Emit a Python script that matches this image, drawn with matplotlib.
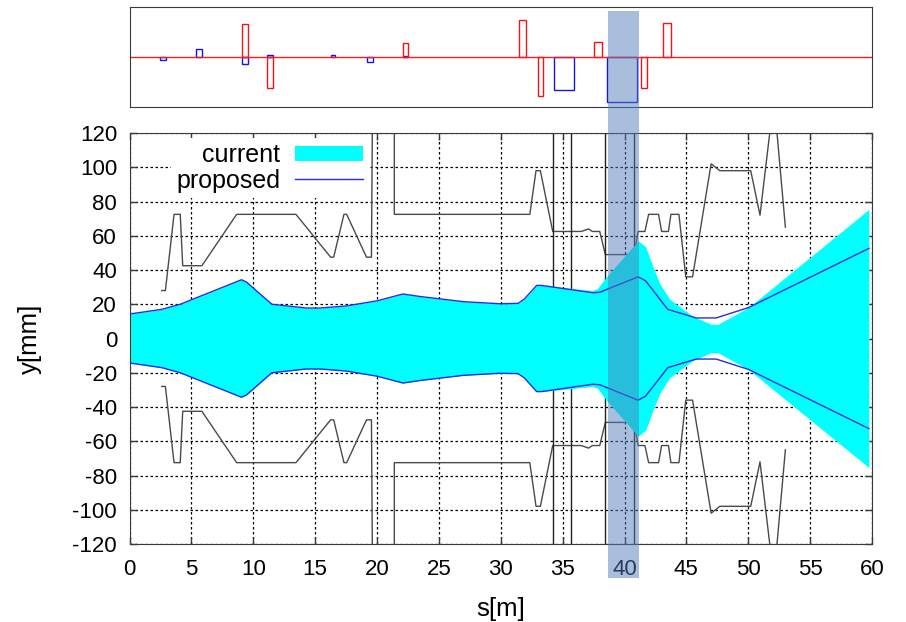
import matplotlib
matplotlib.use('Agg')
import matplotlib.pyplot as plt
from matplotlib.patches import Rectangle
from matplotlib.transforms import blended_transform_factory
import numpy as np

plt.rcParams['font.family'] = ['Liberation Sans', 'DejaVu Sans']
plt.rcParams['axes.unicode_minus'] = False

# top panel: magnets (start, end, strength)
red_start = [9.06, 11.08, 22.07, 31.5, 33.0, 37.55, 41.3, 43.12]
red_end = [9.6, 11.6, 22.5, 32.03, 33.4, 38.17, 41.83, 43.76]
red_val = [32.7, -31.3, 14.3, 37, -39, 15.3, -31.3, 33.7]
blue_start = [2.49, 5.4, 9.06, 11.08, 16.25, 19.18, 22.1, 34.3, 38.6]
blue_end = [2.97, 5.88, 9.6, 11.6, 16.63, 19.67, 22.45, 35.88, 40.97]
blue_val = [-3.3, 7.7, -6.7, 2.3, 2.3, -4.7, 1.3, -32.7, -45.3]

# beam envelope, proposed
prop_s = [0, 2.6, 4.1, 9.05, 9.45, 11.5, 14.3, 15.4, 17.5, 20, 22.1, 23.5, 27, 29.9, 31.4,
          31.9, 32.9, 33.3, 37.45, 38, 41.1, 41.7, 43.5, 45.8, 47.4, 50, 59.75]
prop_y = [14.3, 17, 20, 34.3, 33, 20, 17.8, 17.8, 19, 22, 26, 24.5, 21.5, 20.3, 20.5,
          23, 31, 31, 26.7, 27, 36, 33.7, 17, 12, 12, 18, 52.6]

# beam envelope, current
curr_s = [0, 2.6, 4.1, 9.05, 9.45, 11.5, 14.3, 15.4, 17.5, 20, 22.1, 23.5, 27, 29.9, 31.4,
          31.9, 32.9, 33.3, 37.4, 37.8, 38.65, 41.1, 41.7, 42.3, 42.85, 43.65, 45.5, 47, 47.55, 50, 59.75]
curr_y = [14.3, 17, 20, 34.3, 33, 20, 17.8, 17.8, 19, 22, 26, 24.5, 21.5, 20.3, 20.5,
          23, 31, 31, 28, 29, 37, 57, 53.7, 42, 32, 23, 13, 8.3, 8.3, 18, 75.4]

# aperture outline
ap_s = [2.6, 2.9, 3.6, 4.1, 4.3, 5.85, 8.66, 13.45, 16.25, 16.5, 17.33, 17.55, 19.15, 19.55,
        19.7, 21.4, 21.4, 32.35, 32.85, 33.2, 34.2, 36.5, 37.1, 37.4, 38, 38.45, 40.8, 41.1,
        41.65, 41.95, 42.75, 43, 43.55, 43.75, 44.4, 44.95, 45.5, 47, 47.7, 50.2, 50.95,
        51.9, 52.2, 53]
ap_y = [28, 28, 72.5, 72.5, 42.5, 42.5, 72.5, 72.5, 47.5, 47.5, 72.5, 72.5, 47.5, 47.5,
        200, 200, 72.5, 72.5, 98, 98, 62.5, 62.5, 64, 62.5, 62.5, 49, 49, 62.5,
        62.5, 72.5, 72.5, 62.5, 62.5, 72.5, 72.5, 36, 36, 102, 98, 98, 72,
        130, 130, 65]
spike_s = [34.2, 35.7, 38.45, 40.8]

band_s = [38.65, 41.2]

W, H = 906, 622
fig = plt.figure(figsize=(W / 100, H / 100), dpi=100)
dark = '#3a3a3a'

# top panel
ax0 = fig.add_axes([129.5 / W, 1 - 107 / H, 742.5 / W, 100 / H])
ax0.bar(blue_start, blue_val, width=np.array(blue_end) - np.array(blue_start), align='edge',
        fill=False, edgecolor='#1414f0', linewidth=1)
ax0.bar(red_start, red_val, width=np.array(red_end) - np.array(red_start), align='edge',
        fill=False, edgecolor='#f01414', linewidth=1)
ax0.axhline(0, color='#f02020', lw=1)
ax0.set_xlim(0, 60)
ax0.set_ylim(-50, 50)
ax0.set_xticks([])
ax0.set_yticks([])
for sp in ax0.spines.values():
    sp.set_color(dark)

# main panel
ax = fig.add_axes([129.5 / W, 1 - 544 / H, 742.5 / W, 411 / H])
ax.set_axisbelow(True)
ax.grid(True, color='black', linestyle=(0, (2, 2)), linewidth=0.9)
ap_s = np.array(ap_s)
ap_y = np.array(ap_y)
ax.plot(ap_s, ap_y, color='#4a4a4a', lw=1, zorder=1.5)
ax.plot(ap_s, -ap_y, color='#4a4a4a', lw=1, zorder=1.5)
for s in spike_s:
    ax.axvline(s, color='#222222', lw=1, zorder=1.5)
ax.fill_between(curr_s, -np.array(curr_y), curr_y, color='#00ffff', lw=0, zorder=2, label='current')
ax.plot(prop_s, prop_y, color='#2a2ae8', lw=1, zorder=3, label='proposed')
ax.plot(prop_s, -np.array(prop_y), color='#2a2ae8', lw=1, zorder=3)
ax.set_xlim(0, 60)
ax.set_ylim(-120, 120)
ax.set_xticks(np.arange(0, 61, 5))
ax.set_yticks(np.arange(-120, 121, 20))
ax.tick_params(direction='in', length=5, width=1, color=dark, top=True, right=True, labelsize=16)
ax.tick_params(axis='x', pad=11)
ax.tick_params(axis='y', pad=9)
ax.set_xlabel('s[m]', fontsize=18.5)
ax.set_ylabel('y[mm]', fontsize=18.5)
ax.xaxis.set_label_coords(0.5, -0.129)
ax.yaxis.set_label_coords(-0.118, 0.5)
for sp in ax.spines.values():
    sp.set_color(dark)
# legend box sits over the grid but under the aperture lines
leg = ax.legend(loc='upper right', bbox_to_anchor=(238 / 742.5, 0.987), markerfirst=False, fontsize=18,
                frameon=True, framealpha=1, edgecolor='none', fancybox=False,
                handlelength=2.7, handleheight=0.6, labelspacing=0.05, handletextpad=0.6,
                borderaxespad=0, borderpad=0.2)
leg.set_zorder(1.2)

# shaded band across both panels
trans = blended_transform_factory(ax.transData, fig.transFigure)
fig.add_artist(Rectangle((band_s[0], 1 - 578 / H), band_s[1] - band_s[0], 567 / H, transform=trans,
                         facecolor=(80 / 255, 124 / 255, 184 / 255), alpha=0.49, edgecolor='none',
                         zorder=10))

fig.savefig('out.png', dpi=100)
